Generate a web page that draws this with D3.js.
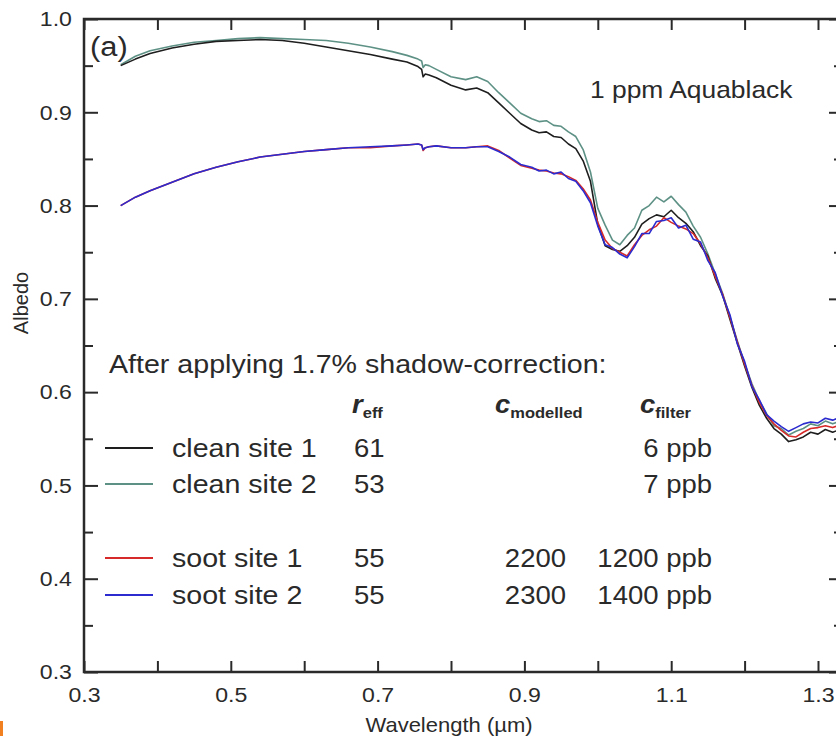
<!DOCTYPE html>
<html>
<head>
<meta charset="utf-8">
<script src="https://cdn.jsdelivr.net/npm/d3@7"></script>
<style>
    body { margin: 0; background: #fff; }
    svg { display: block; font-family: "Liberation Sans", Arial, sans-serif; }
</style>
</head>
<body>
<div id="chart"></div>
<script>
// Wavelength grid (µm) shared by all four spectra
const wavelength = [
    0.35, 0.37, 0.39, 0.42, 0.45, 0.48, 0.51, 0.54, 0.57, 0.60,
    0.63, 0.66, 0.69, 0.72, 0.74, 0.755, 0.76, 0.762, 0.765, 0.77,
    0.78, 0.80, 0.82, 0.835, 0.85, 0.865, 0.88, 0.895, 0.91, 0.92,
    0.93, 0.94, 0.95, 0.96, 0.97, 0.98, 0.99, 1.00, 1.01, 1.02,
    1.03, 1.04, 1.05, 1.06, 1.07, 1.08, 1.09, 1.10, 1.11, 1.12,
    1.13, 1.14, 1.15, 1.16, 1.17, 1.18, 1.19, 1.20, 1.21, 1.22,
    1.23, 1.24, 1.25, 1.26, 1.27, 1.28, 1.29, 1.30, 1.31, 1.32, 1.33
];

const cleanSite1 = [
    0.950, 0.957, 0.963, 0.969, 0.973, 0.976, 0.977, 0.978, 0.977, 0.974,
    0.970, 0.966, 0.962, 0.957, 0.954, 0.949, 0.946, 0.938, 0.941, 0.940,
    0.937, 0.929, 0.924, 0.926, 0.921, 0.910, 0.899, 0.888, 0.881, 0.878,
    0.879, 0.874, 0.873, 0.866, 0.861, 0.848, 0.826, 0.780, 0.757, 0.753,
    0.751, 0.757, 0.766, 0.780, 0.786, 0.790, 0.788, 0.795, 0.787, 0.781,
    0.772, 0.757, 0.746, 0.722, 0.704, 0.678, 0.653, 0.628, 0.605, 0.586,
    0.572, 0.561, 0.555, 0.547, 0.549, 0.552, 0.557, 0.555, 0.560, 0.557, 0.560
];

const cleanSite2 = [
    0.951, 0.960, 0.966, 0.971, 0.975, 0.977, 0.979, 0.980, 0.979, 0.978,
    0.977, 0.974, 0.970, 0.965, 0.961, 0.957, 0.955, 0.948, 0.951, 0.950,
    0.946, 0.938, 0.935, 0.938, 0.933, 0.921, 0.910, 0.899, 0.893, 0.890,
    0.891, 0.886, 0.885, 0.879, 0.874, 0.860, 0.836, 0.797, 0.779, 0.763,
    0.758, 0.768, 0.776, 0.795, 0.800, 0.809, 0.804, 0.810, 0.801, 0.793,
    0.778, 0.766, 0.748, 0.727, 0.706, 0.681, 0.655, 0.631, 0.609, 0.591,
    0.577, 0.564, 0.561, 0.554, 0.558, 0.561, 0.566, 0.564, 0.569, 0.566, 0.569
];

const sootSite1 = [
    0.800, 0.809, 0.816, 0.825, 0.834, 0.841, 0.847, 0.852, 0.855, 0.858,
    0.860, 0.862, 0.862, 0.864, 0.865, 0.866, 0.865, 0.859, 0.862, 0.863,
    0.864, 0.862, 0.862, 0.863, 0.864, 0.859, 0.851, 0.843, 0.840, 0.838,
    0.837, 0.835, 0.834, 0.831, 0.827, 0.818, 0.806, 0.782, 0.763, 0.754,
    0.750, 0.746, 0.758, 0.768, 0.774, 0.778, 0.787, 0.782, 0.778, 0.775,
    0.770, 0.759, 0.744, 0.724, 0.705, 0.680, 0.654, 0.630, 0.607, 0.589,
    0.575, 0.566, 0.559, 0.553, 0.552, 0.557, 0.561, 0.562, 0.564, 0.562, 0.565
];

const sootSite2 = [
    0.800, 0.809, 0.816, 0.825, 0.834, 0.841, 0.847, 0.852, 0.855, 0.858,
    0.860, 0.862, 0.863, 0.864, 0.865, 0.866, 0.865, 0.860, 0.862, 0.863,
    0.864, 0.862, 0.862, 0.863, 0.863, 0.858, 0.852, 0.844, 0.841, 0.837,
    0.838, 0.834, 0.836, 0.829, 0.826, 0.816, 0.803, 0.778, 0.758, 0.755,
    0.748, 0.744, 0.756, 0.770, 0.770, 0.783, 0.784, 0.787, 0.776, 0.779,
    0.764, 0.761, 0.741, 0.728, 0.703, 0.683, 0.652, 0.633, 0.606, 0.592,
    0.576, 0.569, 0.563, 0.558, 0.562, 0.566, 0.568, 0.567, 0.572, 0.570, 0.573
];

// Legend table
const seriesNames = ["clean site 1", "clean site 2", "soot site 1", "soot site 2"];
const seriesColors = ["#1e1e1e", "#5e9185", "#d62a2a", "#2b2bcf"];
const rEff = ["61", "53", "55", "55"];
const cModelled = ["", "", "2200", "2300"];
const cFilter = ["6 ppb", "7 ppb", "1200 ppb", "1400 ppb"];

// Axis ticks
const xTicks = [0.3, 0.4, 0.5, 0.6, 0.7, 0.8, 0.9, 1.0, 1.1, 1.2, 1.3];
const xTickLabels = [0.3, 0.5, 0.7, 0.9, 1.1, 1.3];
const yTicks = [0.3, 0.4, 0.5, 0.6, 0.7, 0.8, 0.9, 1.0];
const yMinorTicks = [0.35, 0.45, 0.55, 0.65, 0.75, 0.85, 0.95];

const W = 836, H = 736;
const frame = { left: 84, top: 19, right: 843, bottom: 672 };
const SX = 1.1;          // the source figure is stretched horizontally
const ink = "#2a2a2a";

const x = d3.scaleLinear().domain([0.3, 1.3]).range([frame.left, 818]);
const y = d3.scaleLinear().domain([0.3, 1.0]).range([frame.bottom, frame.top]);

const svg = d3.select("#chart").append("svg")
    .attr("width", W)
    .attr("height", H);

function label(parent, px, py, str, size, anchor) {
    return parent.append("text")
        .attr("transform", `translate(${px},${py}) scale(${SX},1)`)
        .attr("font-size", size)
        .attr("text-anchor", anchor || "start")
        .attr("fill", ink)
        .text(str);
}

svg.append("clipPath").attr("id", "plotClip")
    .append("rect")
    .attr("x", frame.left)
    .attr("y", frame.top)
    .attr("width", frame.right - frame.left)
    .attr("height", frame.bottom - frame.top);

// Spectra
const spectra = [cleanSite2, cleanSite1, sootSite1, sootSite2];
const spectraColors = [seriesColors[1], seriesColors[0], seriesColors[2], seriesColors[3]];
const line = d3.line()
    .x((d, i) => x(wavelength[i]))
    .y(d => y(d));

spectra.forEach((s, k) => {
    svg.append("path")
        .datum(s)
        .attr("d", line)
        .attr("fill", "none")
        .attr("stroke", spectraColors[k])
        .attr("stroke-width", 1.6)
        .attr("stroke-linejoin", "round")
        .attr("clip-path", "url(#plotClip)");
});

// Axes, all ticks pointing inward
function styleAxis(g) {
    g.select(".domain").remove();
    g.selectAll("line").attr("stroke", ink).attr("stroke-width", 2);
    g.attr("font-family", null).attr("font-size", 21);
    g.selectAll("text").attr("fill", ink).attr("transform", `scale(${SX},1)`);
}

svg.append("g")
    .attr("transform", `translate(0,${frame.bottom})`)
    .call(d3.axisBottom(x).tickValues(xTicks).tickSizeInner(-11).tickSizeOuter(0).tickPadding(15)
        .tickFormat(d => xTickLabels.some(v => Math.abs(v - d) < 1e-9) ? d3.format(".1f")(d) : ""))
    .call(styleAxis);

svg.append("g")
    .attr("transform", `translate(0,${frame.top})`)
    .call(d3.axisTop(x).tickValues(xTicks).tickSizeInner(-11).tickSizeOuter(0).tickFormat(""))
    .call(styleAxis);

svg.append("g")
    .attr("transform", `translate(${frame.left},0)`)
    .call(d3.axisLeft(y).tickValues(yTicks).tickSizeInner(-14).tickSizeOuter(0).tickPadding(11)
        .tickFormat(d3.format(".1f")))
    .call(styleAxis);

svg.append("g")
    .attr("transform", `translate(${frame.left},0)`)
    .call(d3.axisLeft(y).tickValues(yMinorTicks).tickSizeInner(-9).tickSizeOuter(0).tickFormat(""))
    .call(styleAxis);

svg.append("g")
    .attr("transform", `translate(${frame.right},0)`)
    .call(d3.axisRight(y).tickValues(yTicks).tickSizeInner(-14).tickSizeOuter(0).tickFormat(""))
    .call(styleAxis);

svg.append("g")
    .attr("transform", `translate(${frame.right},0)`)
    .call(d3.axisRight(y).tickValues(yMinorTicks).tickSizeInner(-9).tickSizeOuter(0).tickFormat(""))
    .call(styleAxis);

// Frame
svg.append("rect")
    .attr("x", frame.left)
    .attr("y", frame.top)
    .attr("width", frame.right - frame.left)
    .attr("height", frame.bottom - frame.top)
    .attr("fill", "none")
    .attr("stroke", ink)
    .attr("stroke-width", 2.5);

// Axis titles
label(svg, 449, 732, "Wavelength (\u00b5m)", 20, "middle");
svg.append("text")
    .attr("transform", "translate(28,303) rotate(-90)")
    .attr("font-size", 20)
    .attr("text-anchor", "middle")
    .attr("fill", ink)
    .text("Albedo");

// Panel annotations
label(svg, 90, 56, "(a)", 28);
label(svg, 590, 98, "1 ppm Aquablack", 24);

// Legend table
label(svg, 109, 373, "After applying 1.7% shadow-correction:", 26);

function header(px, main, sub) {
    const t = label(svg, px, 413, "", 25);
    t.append("tspan").attr("font-weight", "bold").attr("font-style", "italic").text(main);
    t.append("tspan").attr("font-weight", "bold").attr("font-size", 15).attr("dy", 5).text(sub);
}
header(352, "r", "eff");
header(495, "c", "modelled");
header(640, "c", "filter");

const rowBase = [457, 493, 567, 604];
const legend = svg.append("g");
seriesNames.forEach((name, i) => {
    const yb = rowBase[i];
    legend.append("line")
        .attr("x1", 105).attr("x2", 153)
        .attr("y1", yb - 9).attr("y2", yb - 9)
        .attr("stroke", seriesColors[i])
        .attr("stroke-width", 2);
    label(legend, 172, yb, name, 26);
    label(legend, 354, yb, rEff[i], 25);
    if (cModelled[i]) label(legend, 566, yb, cModelled[i], 25, "end");
    label(legend, 712, yb, cFilter[i], 25, "end");
});

// small orange mark at the lower-left edge of the source image
svg.append("rect")
    .attr("x", 0).attr("y", 721)
    .attr("width", 3).attr("height", 15)
    .attr("fill", "#f08020");
</script>
</body>
</html>
